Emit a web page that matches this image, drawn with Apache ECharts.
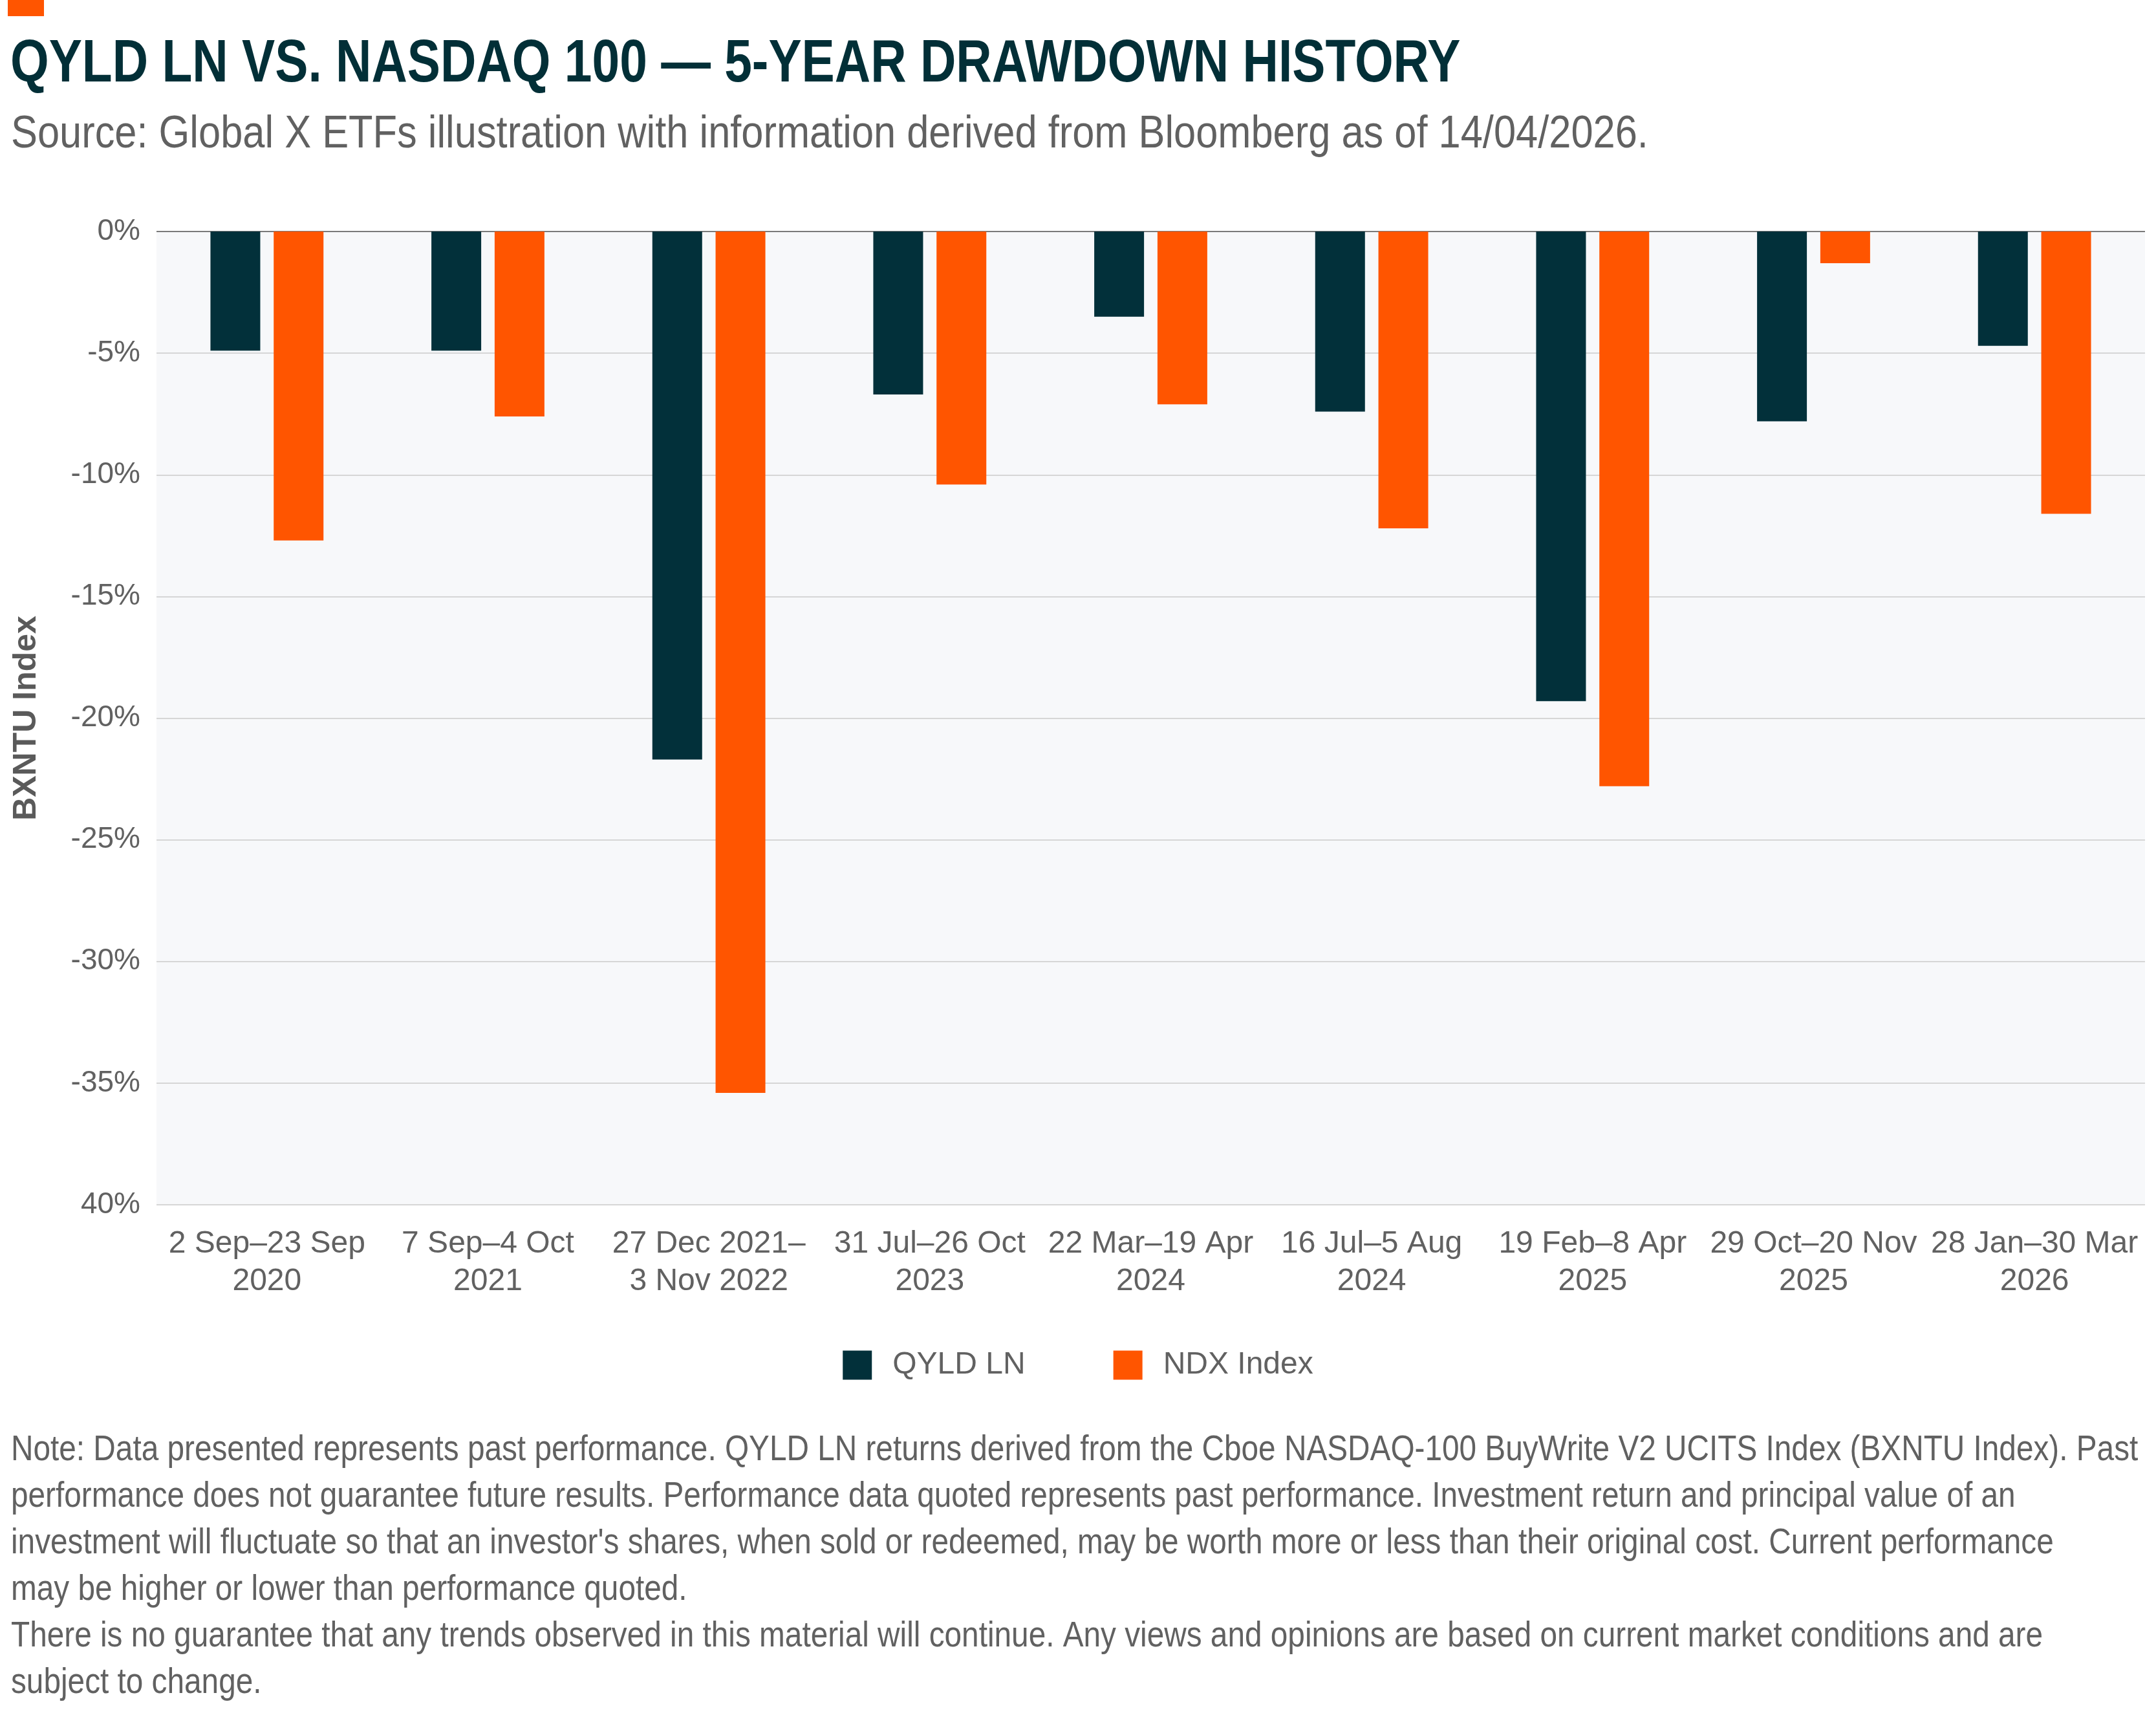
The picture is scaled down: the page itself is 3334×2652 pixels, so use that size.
<!DOCTYPE html>
<html>
<head>
<meta charset="utf-8">
<script src="https://cdn.jsdelivr.net/npm/echarts@6/dist/echarts.min.js"></script>
<style>
  html, body { margin: 0; padding: 0; background: #fff; }
  #chart { width: 3334px; height: 2652px; }
</style>
</head>
<body>
<div id="chart"></div>
<script>
var FONT = "'Liberation Sans', Arial, sans-serif";

// drawdown periods
var categories = [
  '2 Sep\u201323 Sep\n2020',
  '7 Sep\u20134 Oct\n2021',
  '27 Dec 2021\u2013\n3 Nov 2022',
  '31 Jul\u201326 Oct\n2023',
  '22 Mar\u201319 Apr\n2024',
  '16 Jul\u20135 Aug\n2024',
  '19 Feb\u20138 Apr\n2025',
  '29 Oct\u201320 Nov\n2025',
  '28 Jan\u201330 Mar\n2026'
];
var qyldValues = [-4.9, -4.9, -21.7, -6.7, -3.5, -7.4, -19.3, -7.8, -4.7];
var ndxValues = [-12.7, -7.6, -35.4, -10.4, -7.1, -12.2, -22.8, -1.3, -11.6];
var yTicks = [-40, -35, -30, -25, -20, -15, -10, -5, 0];
var yTickLabels = ['40%', '-35%', '-30%', '-25%', '-20%', '-15%', '-10%', '-5%', '0%'];

var footnote = [
  'Note: Data presented represents past performance. QYLD LN returns derived from the Cboe NASDAQ-100 BuyWrite V2 UCITS Index (BXNTU Index). Past',
  'performance does not guarantee future results. Performance data quoted represents past performance. Investment return and principal value of an',
  "investment will fluctuate so that an investor's shares, when sold or redeemed, may be worth more or less than their original cost. Current performance",
  'may be higher or lower than performance quoted.',
  'There is no guarantee that any trends observed in this material will continue. Any views and opinions are based on current market conditions and are',
  'subject to change.'
];

var chart = echarts.init(document.getElementById('chart'));

var gridColors = yTicks.map(function (v) { return v === 0 ? '#7a7a7a' : '#d6d6d6'; });

var options = {
  backgroundColor: '#ffffff',
  animation: false,
  textStyle: { fontFamily: FONT },
  graphic: [
    { type: 'rect', left: 12, top: 0, shape: { width: 56, height: 25 }, style: { fill: '#FF5500' } },
    // the original uses a condensed face; squeeze horizontally to match
    { type: 'text', x: 16, y: 100, scaleX: 0.825, style: { text: 'QYLD LN VS. NASDAQ 100 \u2014 5-YEAR DRAWDOWN HISTORY', font: 'bold 93px ' + FONT, fill: '#022F37', textVerticalAlign: 'middle' } },
    { type: 'text', x: 17, y: 209, scaleX: 0.877, style: { text: 'Source: Global X ETFs illustration with information derived from Bloomberg as of 14/04/2026.', font: '70px ' + FONT, fill: '#616161', textVerticalAlign: 'middle' } },
    { type: 'text', x: 17, y: 2207, scaleX: 0.868, style: { text: footnote.join('\n'), font: '55px ' + FONT, lineHeight: 72, fill: '#616161', textVerticalAlign: 'top' } }
  ],
  legend: {
    data: ['QYLD LN', 'NDX Index'],
    left: 'center',
    top: 2082,
    icon: 'rect',
    itemWidth: 45,
    itemHeight: 45,
    itemGap: 136,
    textStyle: { fontSize: 48, color: '#616161', fontFamily: FONT, padding: [0, 0, 0, 27] }
  },
  grid: {
    left: 242,
    right: 17,
    top: 358,
    bottom: 789,
    containLabel: false,
    outerBoundsMode: 'none',
    show: true,
    backgroundColor: '#F7F8FA',
    borderWidth: 0
  },
  xAxis: {
    type: 'category',
    data: categories,
    position: 'bottom',
    axisLine: { show: false, onZero: false },
    axisTick: { show: false },
    axisLabel: { fontSize: 48, color: '#616161', lineHeight: 58, margin: 32, interval: 0, fontFamily: FONT }
  },
  yAxis: {
    type: 'value',
    min: -40,
    max: 0,
    interval: 5,
    name: 'BXNTU Index',
    nameLocation: 'middle',
    nameRotate: 90,
    nameGap: 176,
    nameTextStyle: { fontSize: 50, fontWeight: 'bold', color: '#5a5a5a', fontFamily: FONT },
    axisLine: { show: false },
    axisTick: { show: false },
    axisLabel: {
      fontSize: 46, color: '#616161', margin: 25, fontFamily: FONT,
      formatter: function (v) { return yTickLabels[yTicks.indexOf(v)]; }
    },
    splitLine: { show: true, lineStyle: { color: gridColors, width: 2 } }
  },
  series: [
    { name: 'QYLD LN', type: 'bar', data: qyldValues, barWidth: 77, barGap: '27%', itemStyle: { color: '#02303A' } },
    { name: 'NDX Index', type: 'bar', data: ndxValues, barWidth: 77, itemStyle: { color: '#FF5500' } }
  ]
};
chart.setOption(options);
</script>
</body>
</html>
